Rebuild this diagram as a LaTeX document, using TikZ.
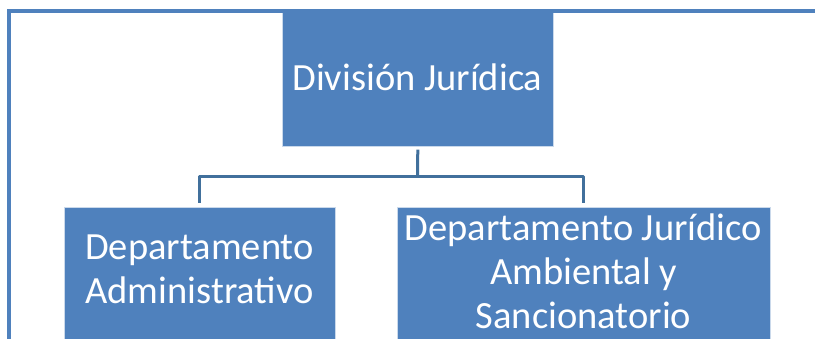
\documentclass[tikz,border=0pt]{standalone}
\usepackage{fontspec}
\setmainfont{Carlito}
\definecolor{boxblue}{HTML}{4F81BD}
\definecolor{linkblue}{HTML}{41709C}
\begin{document}
\begin{tikzpicture}[x=1pt,y=-1pt,
  box/.style={fill=boxblue,draw=white!70!boxblue,line width=0.6pt,inner sep=0pt,anchor=north west},
  txt/.style={text=white,align=center,font=\fontsize{38.5}{44}\selectfont,inner sep=0pt},
  conn/.style={draw=linkblue,line width=3pt,line join=round},
  border/.style={draw=boxblue,line width=4pt,line join=miter}]
\useasboundingbox (0,0) rectangle (815,339);
\clip (0,0) rectangle (815,339);
% boxes
\node[box,minimum width=271,minimum height=135] (div) at (282,11) {};
\node[txt] (divt) at (417.5,77) {División Jurídica};
\node[box,minimum width=271,minimum height=140] (adm) at (64,207) {};
\node[txt] (admt) at (199.5,269) {Departamento\\Administrativo};
\node[box,minimum width=373,minimum height=140] (san) at (397,207) {};
\node[txt] (sant) at (583.5,271) {Departamento Jurídico\\Ambiental y\\Sancionatorio};
% connectors
\coordinate (j) at (417.5,177);
\draw[conn] ([yshift=-3pt]div.south) -- (j);
\draw[conn] ([yshift=4pt]adm.north) |- (j);
\draw[conn] ([yshift=4pt]san.north) |- (j);
% frame
\draw[border] (9,345) -- (9,11) -- (820,11);
\end{tikzpicture}
\end{document}
